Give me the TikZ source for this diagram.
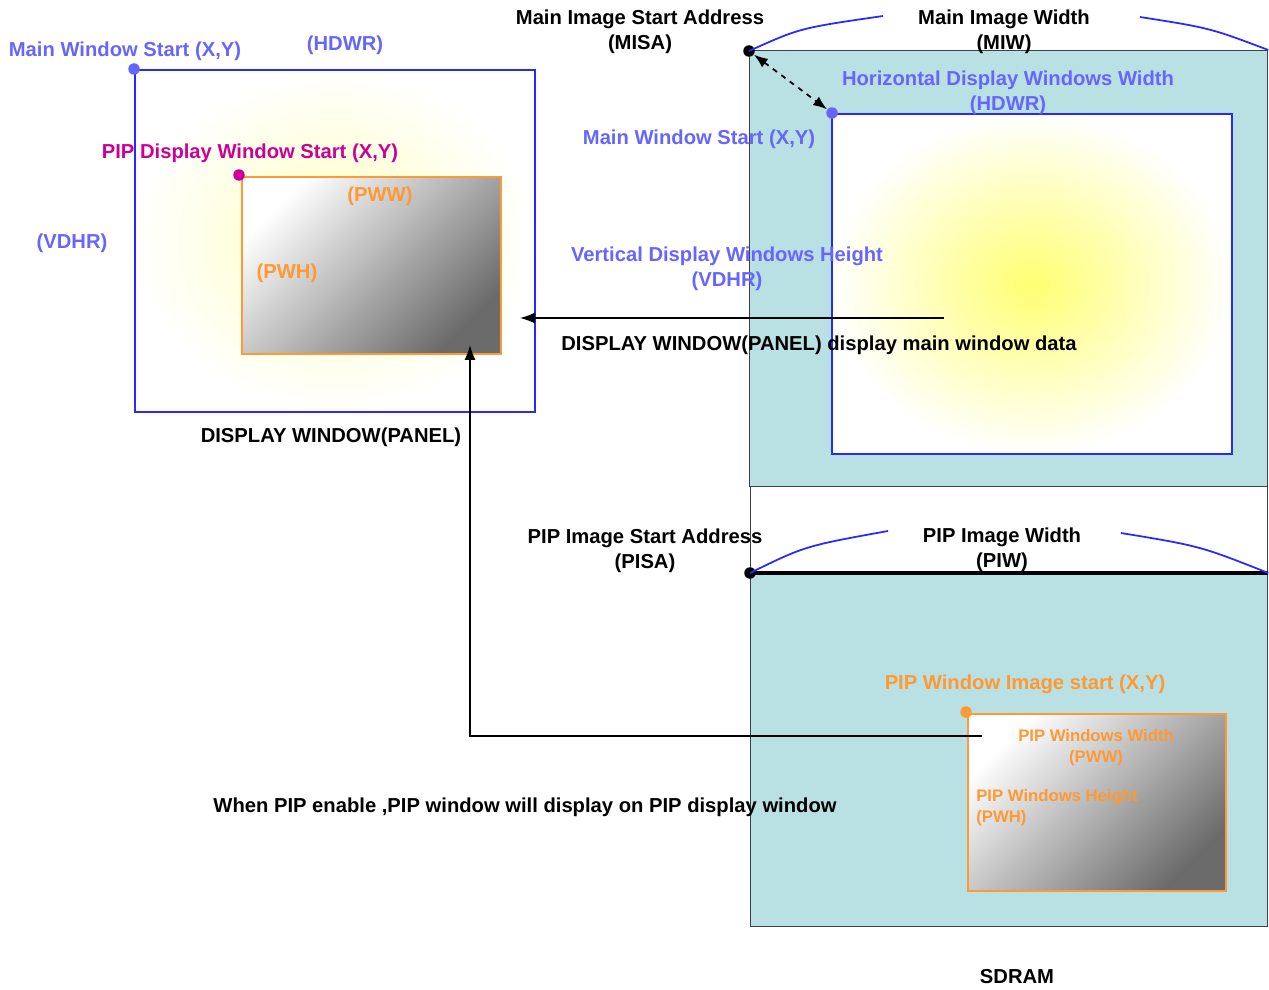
\documentclass[tikz,border=0pt]{standalone}
\usepackage{fontspec}
\setmainfont{Liberation Sans}
\usetikzlibrary{positioning, shapes, arrows.meta, calc}
\definecolor{sdram}{RGB}{185,224,226}
\definecolor{lblue}{RGB}{102,102,255}
\definecolor{lineblue}{RGB}{40,40,255}
\definecolor{pipmag}{RGB}{204,0,153}
\definecolor{piporg}{RGB}{255,153,51}

\begin{document}
\begin{tikzpicture}[x=0.02cm, y=-0.02cm,
          win/.style={draw=lineblue, line width=1pt, anchor=north west, inner sep=0pt, inner color=#1, outer color=white},
          pipwin/.style={draw=piporg, line width=1pt, anchor=north west, inner sep=0pt, shading=axis, top color=white, bottom color=black!58, shading angle=45},
          mem/.style={draw=black!75, line width=0.8pt, fill=#1, anchor=north west, inner sep=0pt},
          dot/.style={circle, fill=#1, inner sep=0pt, minimum size=2.3mm},
          lbl/.style={font=\fontsize{11.5}{14.2}\selectfont\bfseries, align=center, inner sep=0pt},
          sml/.style={font=\fontsize{9.5}{11.9}\selectfont\bfseries, inner sep=0pt, text=piporg},
          edg/.style={-{Latex[length=3mm, width=2.2mm]}, line width=0.8pt},
          brc/.style={draw=lineblue, line width=1pt},
        ]
        \useasboundingbox (0,0) rectangle (1269,990);
        % display panel
        \node[win=yellow!25, minimum width=8cm, minimum height=6.84cm] (panel) at (134,69) {};
        \node[pipwin, minimum width=5.18cm, minimum height=3.54cm] (pipdisp) at (241,176) {};
        \node[dot=lblue] (pstart) at (134,69) {};
        \node[dot=pipmag] (pipstart) at (239,175) {};
        % SDRAM
        \node[mem=sdram, minimum width=10.36cm, minimum height=8.72cm] (upper) at (749,50) {};
        \node[mem=white, minimum width=10.34cm, minimum height=1.74cm] (gap) at (750,486) {};
        \node[mem=sdram, minimum width=10.34cm, minimum height=7.06cm] (lower) at (750,573) {};
        \node[win=yellow!55, minimum width=8cm, minimum height=6.8cm] (mainwin) at (831,113) {};
        \node[pipwin, minimum width=5.16cm, minimum height=3.54cm] (pipimg) at (967,713) {};
        \node[dot=black] (misa) at (749,51) {};
        \node[dot=lblue] (mws) at (832,113) {};
        \node[dot=black] (pisa) at (750,573) {};
        \node[dot=piporg] (pws) at (966,712) {};
        \draw[line width=1.8pt] (pisa.center) -- (lower.north east);
        % width braces
        \coordinate (miwL) at (883,16);
        \coordinate (miwR) at (1140,17);
        \coordinate (piwL) at (888,531);
        \coordinate (piwR) at (1121,533);
        \draw[brc] (misa.center) .. controls (800,28) .. (miwL);
        \draw[brc] (miwR) .. controls (1210,28) .. (upper.north east);
        \draw[brc] (pisa.center) .. controls (805,546) .. (piwL);
        \draw[brc] (piwR) .. controls (1200,546) .. (lower.north east);
        \draw[{Latex[length=2.8mm]}-{Latex[length=2.8mm]}, dashed, line width=1pt] (misa) -- (mws);
        % data paths
        \coordinate (msrc) at (944,318);
        \coordinate (mdst) at (520,318);
        \coordinate (psrc) at (982,736);
        \coordinate (pdst) at (470,345);
        \draw[edg] (msrc) -- (mdst);
        \draw[edg] (psrc) -| (pdst);
        % labels, panel side
        \node[lbl, text=lblue] (l1) at (125,51) {Main Window Start (X,Y)};
        \node[lbl, text=lblue] (l2) at (345,45) {(HDWR)};
        \node[lbl, text=pipmag] (l3) at (250,153) {PIP Display Window Start (X,Y)};
        \node[lbl, text=piporg] (l4) at (380,196) {(PWW)};
        \node[lbl, text=lblue] (l5) at (72,243) {(VDHR)};
        \node[lbl, text=piporg] (l6) at (287,273) {(PWH)};
        \node[lbl] (l7) at (331,437) {DISPLAY WINDOW(PANEL)};
        % labels, SDRAM side
        \node[lbl] (l8) at (640,31.5) {Main Image Start Address\\(MISA)};
        \node[lbl] (l9) at (1004,31.5) {Main Image Width\\(MIW)};
        \node[lbl, text=lblue] (l10) at (1008,93) {Horizontal Display Windows Width\\(HDWR)};
        \node[lbl, text=lblue] (l11) at (699,139) {Main Window Start (X,Y)};
        \node[lbl, text=lblue] (l12) at (727,268.5) {Vertical Display Windows Height\\(VDHR)};
        \node[lbl] (l13) at (819,345) {DISPLAY WINDOW(PANEL) display main window data};
        \node[lbl] (l14) at (645,550.5) {PIP Image Start Address\\(PISA)};
        \node[lbl] (l15) at (1002,549.5) {PIP Image Width\\(PIW)};
        \node[lbl, text=piporg] (l16) at (1025,684) {PIP Window Image start (X,Y)};
        \node[sml, align=center] (l17) at (1096,748) {PIP Windows Width\\(PWW)};
        \node[sml, align=left, anchor=west] (l18) at (976,808) {PIP Windows Height\\(PWH)};
        \node[lbl] (l19) at (525,807) {When PIP enable ,PIP window will display on PIP display window};
        \node[lbl] (l20) at (1017,977) {SDRAM};
        \end{tikzpicture}
\end{document}
